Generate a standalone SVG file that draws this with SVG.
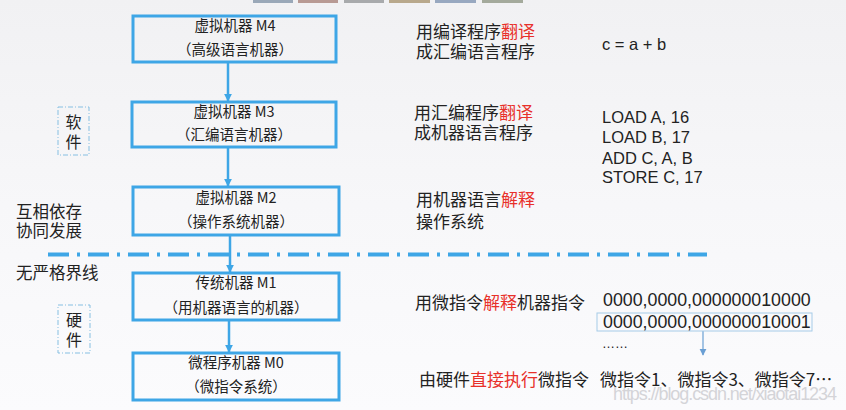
<svg xmlns="http://www.w3.org/2000/svg" width="846" height="410" viewBox="0 0 846 410">
<defs>
<linearGradient id="bg" x1="0" y1="0" x2="0" y2="1">
<stop offset="0" stop-color="#f1f1f3"/>
<stop offset="0.5" stop-color="#f7f7f9"/>
<stop offset="1" stop-color="#fbfbfd"/>
</linearGradient>
<marker id="ah" viewBox="0 0 10 10" refX="9" refY="5" markerWidth="3.2" markerHeight="3.2" orient="auto" markerUnits="strokeWidth">
<path d="M0,0 L10,5 L0,10 z" fill="#3ea6e6"/>
</marker>
<marker id="ah2" viewBox="0 0 10 10" refX="9" refY="5" markerWidth="6" markerHeight="6" orient="auto" markerUnits="strokeWidth">
<path d="M0,0 L10,5 L0,10 z" fill="#6a9fd4"/>
</marker>
</defs>
<style>
.box{fill:none;stroke:#3ea6e6;stroke-width:3}
.bt{font-family:"Noto Sans CJK SC","Noto Sans",sans-serif;font-size:14.5px;fill:#222;text-anchor:middle}
.lt{font-family:"Noto Sans CJK SC","Noto Sans",sans-serif;font-size:16px;fill:#222}
.rt{font-family:"Noto Sans CJK SC","Noto Sans",sans-serif;font-size:17px;fill:#222}
.red{fill:#e8302a}
.en{font-family:"Liberation Sans",Arial,sans-serif;font-size:16.5px;fill:#222}
.tag{fill:none;stroke:#86bfe2;stroke-width:1;stroke-dasharray:5 2 1 2}
.conn{stroke:#3ea6e6;stroke-width:2.5;fill:none}
</style>
<rect width="846" height="410" fill="url(#bg)"/>
<g id="tabs">
<rect x="253" y="0" width="40" height="3" fill="#9aa8b8"/>
<rect x="298" y="0" width="40" height="3" fill="#b89a94"/>
<rect x="344" y="0" width="40" height="3" fill="#a8aaac"/>
<rect x="389" y="0" width="41" height="3" fill="#b8a88c"/>
<rect x="435" y="0" width="41" height="3" fill="#98a8c0"/>
<rect x="482" y="0" width="41" height="3" fill="#a4aa9c"/>
</g>
<g id="connectors">
<line class="conn" x1="228" y1="62" x2="228" y2="101" marker-end="url(#ah)"/>
<line class="conn" x1="228" y1="147" x2="228" y2="186" marker-end="url(#ah)"/>
<line class="conn" x1="230" y1="235" x2="230" y2="272" marker-end="url(#ah)"/>
<line class="conn" x1="229" y1="320" x2="229" y2="352" marker-end="url(#ah)"/>
<line x1="703" y1="331" x2="703" y2="355" stroke="#6a9fd4" stroke-width="1.2" marker-end="url(#ah2)"/>
</g>
<line id="boundary" x1="48" y1="254.5" x2="707" y2="254.5" stroke="#3ea6e6" stroke-width="4" stroke-dasharray="21 8 3 8"/>
<g id="M4">
<rect class="box" x="133" y="16" width="203" height="46"/>
<text class="bt" x="235" y="31">虚拟机器 M4</text>
<text class="bt" x="235" y="55">（高级语言机器）</text>
</g>
<g id="M3">
<rect class="box" x="132" y="102" width="204" height="45"/>
<text class="bt" x="234" y="117">虚拟机器 M3</text>
<text class="bt" x="234" y="140">（汇编语言机器）</text>
</g>
<g id="M2">
<rect class="box" x="133" y="187" width="206" height="48"/>
<text class="bt" x="236" y="203">虚拟机器 M2</text>
<text class="bt" x="236" y="227">（操作系统机器）</text>
</g>
<g id="M1">
<rect class="box" x="133" y="273" width="206" height="47"/>
<text class="bt" x="236" y="288">传统机器 M1</text>
<text class="bt" x="236" y="313">（用机器语言的机器）</text>
</g>
<g id="M0">
<rect class="box" x="133" y="353" width="206" height="47"/>
<text class="bt" x="236" y="368">微程序机器 M0</text>
<text class="bt" x="236" y="392">（微指令系统）</text>
</g>
<g id="software">
<rect class="tag" x="58" y="107" width="31" height="48"/>
<text class="lt" x="73.5" y="128" text-anchor="middle">软</text>
<text class="lt" x="73.5" y="148" text-anchor="middle">件</text>
</g>
<g id="hardware">
<rect class="tag" x="58" y="305" width="32" height="48"/>
<text class="lt" x="74" y="326" text-anchor="middle">硬</text>
<text class="lt" x="74" y="346" text-anchor="middle">件</text>
</g>
<g id="left-notes">
<text class="lt" x="16" y="218" style="font-size:16.5px">互相依存</text>
<text class="lt" x="16" y="237" style="font-size:16.5px">协同发展</text>
<text class="lt" x="16" y="279" style="font-size:16.5px">无严格界线</text>
</g>
<g id="right-notes">
<text class="rt" x="416" y="38">用编译程序<tspan class="red">翻译</tspan></text>
<text class="rt" x="416" y="58">成汇编语言程序</text>
<text class="rt" x="414" y="119">用汇编程序<tspan class="red">翻译</tspan></text>
<text class="rt" x="414" y="139">成机器语言程序</text>
<text class="rt" x="416" y="206">用机器语言<tspan class="red">解释</tspan></text>
<text class="rt" x="416" y="228">操作系统</text>
<text class="rt" x="415" y="309">用微指令<tspan class="red">解释</tspan>机器指令</text>
<text class="rt" x="419" y="386">由硬件<tspan class="red">直接执行</tspan>微指令</text>
</g>
<g id="examples">
<text class="en" x="602" y="50">c = a + b</text>
<text class="en" x="602" y="123">LOAD A, 16</text>
<text class="en" x="602" y="143">LOAD B, 17</text>
<text class="en" x="602" y="164">ADD C, A, B</text>
<text class="en" x="602" y="183">STORE C, 17</text>
<text class="en" x="603" y="306" style="font-size:17.8px">0000,0000,000000010000</text>
<rect x="597" y="313" width="215" height="18" fill="none" stroke="#a6cbe8" stroke-width="1"/>
<text class="en" x="603" y="328" style="font-size:17.8px">0000,0000,000000010001</text>
<text class="en" x="602" y="348" style="font-size:13px">……</text>
<text class="rt" x="600" y="386">微指令1、微指令3、微指令7…</text>
</g>
<text x="613" y="400" font-family="'Liberation Sans',Arial,sans-serif" font-size="18" fill="#d4d4d8" textLength="224">https://blog.csdn.net/xiaotai1234</text>
</svg>
